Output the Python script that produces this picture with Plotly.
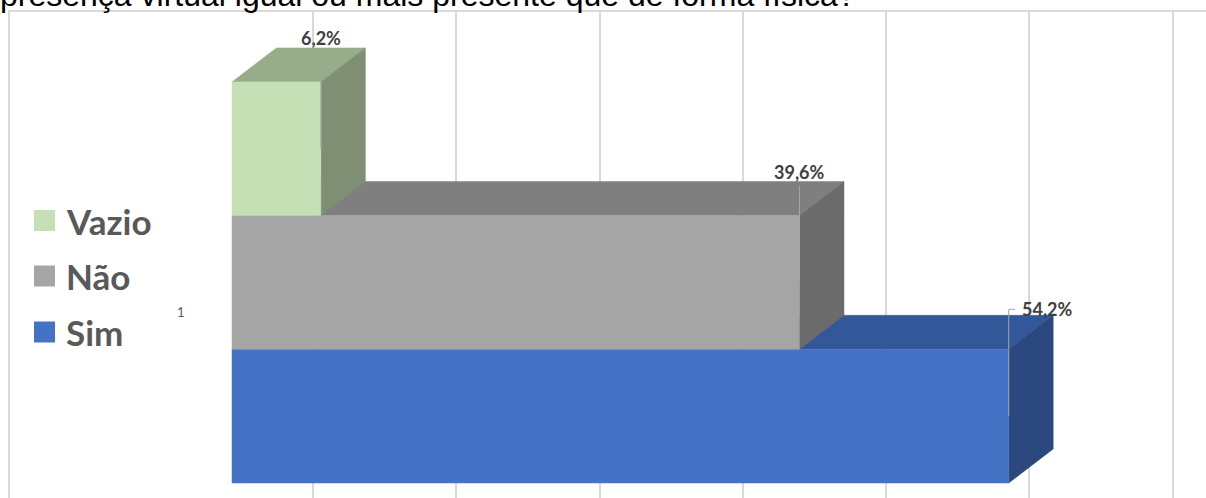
import plotly.graph_objects as go

# ---- data ----
series = ["Sim", "Não", "Vazio"]
values = [54.2, 39.6, 6.2]
value_labels = ["54,2%", "39,6%", "6,2%"]
category_labels = ["1"]
title_text = "presença virtual igual ou mais presente que de forma física?"

# ---- styles ----
front_colors = ["#4472C4", "#A5A5A5", "#C5E0B4"]
top_colors = ["#32589A", "#7F7F7F", "#97AC88"]
side_colors = ["#2A487E", "#6B6B6B", "#7F8F73"]

W, H = 1206, 498
L_M, T_M = 10, 12
PX_PER_PCT = 14.33
PX_PER_UNIT = 133.7
ZERO_PX = 232          # pixel of 0 % on front face
BASE_PX = 483          # pixel of bottom of the first bar
DEPTH_X = 44.5 / PX_PER_PCT
DEPTH_Y = 34 / PX_PER_UNIT

x_range = [(L_M - ZERO_PX) / PX_PER_PCT, (W - ZERO_PX) / PX_PER_PCT]
y_range = [-(H - BASE_PX) / PX_PER_UNIT, (BASE_PX - T_M) / PX_PER_UNIT]
grid_vals = [5.65 + 10 * k for k in range(7)]

fig = go.Figure()

def poly(xs, ys, color):
    fig.add_trace(go.Scatter(
        x=xs + [xs[0]], y=ys + [ys[0]], mode="lines", fill="toself",
        fillcolor=color, line=dict(color=color, width=0.5),
        hoverinfo="skip", showlegend=False))

for i, (name, v) in enumerate(zip(series, values)):
    y0, y1 = i, i + 1
    # top face
    poly([0, v, v + DEPTH_X, DEPTH_X], [y1, y1, y1 + DEPTH_Y, y1 + DEPTH_Y], top_colors[i])
    # side face
    poly([v, v + DEPTH_X, v + DEPTH_X, v], [y0, y0 + DEPTH_Y, y1 + DEPTH_Y, y1], side_colors[i])
    # front face
    poly([0, v, v, 0], [y0, y0, y1, y1], front_colors[i])

# leader lines and data labels
for i, (v, lab) in enumerate(zip(values, value_labels)):
    top = i + 1 + DEPTH_Y
    if i == 0:
        ly = top + 6 / PX_PER_UNIT
        fig.add_trace(go.Scatter(x=[v + 0.45, v, v], y=[ly, ly, i + 0.5], mode="lines",
                                 line=dict(color="#A6A6A6", width=1),
                                 hoverinfo="skip", showlegend=False))
        fig.add_annotation(x=v + 0.8, y=ly, xref="x", yref="y", text=f"<b>{lab}</b>",
                           showarrow=False, xanchor="left", yanchor="middle",
                           font=dict(family="Lato", size=18, color="#404040"))
    else:
        fig.add_trace(go.Scatter(x=[v, v], y=[top - 4 / PX_PER_UNIT, i + 0.5], mode="lines",
                                 line=dict(color="#A6A6A6", width=1),
                                 hoverinfo="skip", showlegend=False))
        fig.add_annotation(x=v, y=top, xref="x", yref="y", text=f"<b>{lab}</b>",
                           showarrow=False, xanchor="center", yanchor="bottom", yshift=-3,
                           font=dict(family="Lato", size=18, color="#404040"))

# category label
fig.add_annotation(x=(181 - L_M) / (W - L_M), y=(H - 311.5) / (H - T_M), xref="paper", yref="paper",
                   text=category_labels[0], showarrow=False, xanchor="center", yanchor="middle",
                   font=dict(family="Lato", size=13, color="#595959"))

# legend (top to bottom: Vazio, Não, Sim)
legend_y_px = [220.5, 276, 332]
for k, idx in enumerate([2, 1, 0]):
    yc = legend_y_px[k]
    fig.add_shape(type="rect", xref="paper", yref="paper",
                  x0=(34 - L_M) / (W - L_M), x1=(55 - L_M) / (W - L_M),
                  y0=(H - yc - 10.5) / (H - T_M), y1=(H - yc + 10.5) / (H - T_M),
                  fillcolor=front_colors[idx], line=dict(width=0))
    fig.add_annotation(x=(64 - L_M) / (W - L_M), y=(H - yc) / (H - T_M), xref="paper", yref="paper",
                       text=f"<b>{series[idx]}</b>", showarrow=False, xanchor="left", yanchor="middle",
                       font=dict(family="Lato", size=35, color="#595959"))

# title (cut off at top, as in the reference)
fig.add_annotation(x=0, y=1, xref="paper", yref="paper", text=title_text, showarrow=False,
                   xanchor="left", yanchor="bottom", xshift=-L_M - 2, yshift=-3,
                   font=dict(family="Liberation Sans", size=32, color="#000000"))

fig.update_layout(
    width=W, height=H, margin=dict(l=L_M, r=0, t=T_M, b=0),
    paper_bgcolor="white", plot_bgcolor="white", showlegend=False,
    xaxis=dict(range=x_range, tickmode="array", tickvals=grid_vals, showticklabels=False,
               showgrid=True, gridcolor="#D9D9D9", gridwidth=2, zeroline=False,
               showline=True, linecolor="#D9D9D9", linewidth=2, side="top", ticks=""),
    yaxis=dict(range=y_range, showgrid=False, zeroline=False, showticklabels=False,
               showline=True, linecolor="#D9D9D9", linewidth=2, ticks=""),
)

fig.write_html("out.html", config={"displayModeBar": False},
               post_script="document.body.style.margin='0';document.body.style.overflow='hidden';")
